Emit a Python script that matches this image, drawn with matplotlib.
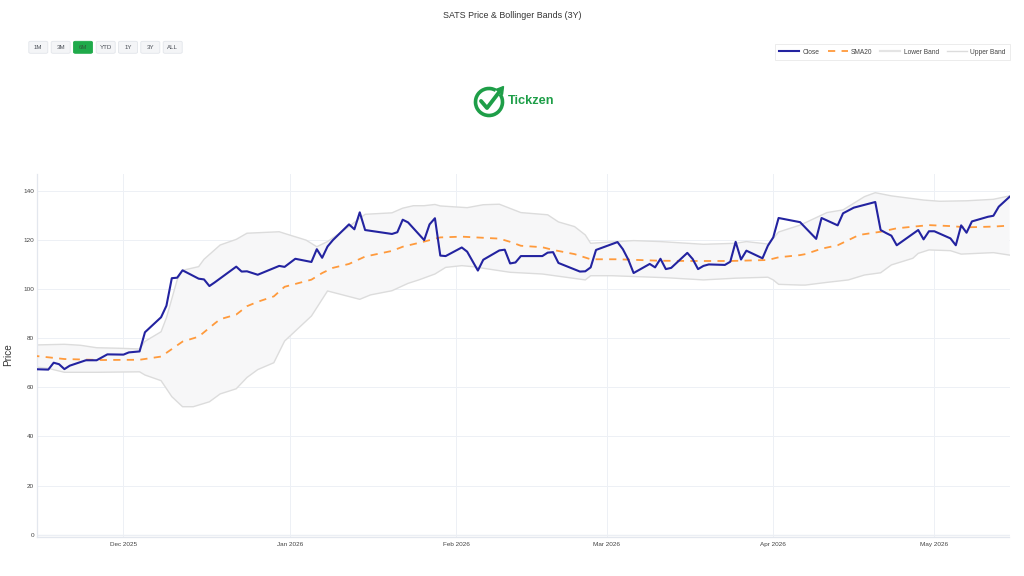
import matplotlib
matplotlib.use("Agg")
import matplotlib.pyplot as plt
import matplotlib.dates as mdates
import matplotlib.patches as mpatches
from matplotlib.lines import Line2D
import pandas as pd

plt.rcParams['font.family'] = ['Liberation Sans', 'DejaVu Sans']

# ---------------- data ----------------
close_dates = [
    "2025-11-14", "2025-11-17", "2025-11-18", "2025-11-19", "2025-11-20", "2025-11-21",
    "2025-11-24", "2025-11-26", "2025-11-28", "2025-12-01", "2025-12-02", "2025-12-04",
    "2025-12-05", "2025-12-08", "2025-12-09", "2025-12-10", "2025-12-11", "2025-12-12",
    "2025-12-15", "2025-12-16", "2025-12-17", "2025-12-18", "2025-12-22", "2025-12-23",
    "2025-12-24", "2025-12-26", "2025-12-29", "2025-12-30", "2025-12-31", "2026-01-02",
    "2026-01-05", "2026-01-06", "2026-01-07", "2026-01-08", "2026-01-09", "2026-01-12",
    "2026-01-13", "2026-01-14", "2026-01-15", "2026-01-20", "2026-01-21", "2026-01-22",
    "2026-01-23", "2026-01-26", "2026-01-27", "2026-01-28", "2026-01-29", "2026-01-30",
    "2026-02-02", "2026-02-03", "2026-02-05", "2026-02-06", "2026-02-09", "2026-02-10",
    "2026-02-11", "2026-02-12", "2026-02-13", "2026-02-17", "2026-02-18", "2026-02-19",
    "2026-02-20", "2026-02-24", "2026-02-25", "2026-02-26", "2026-02-27", "2026-03-03",
    "2026-03-04", "2026-03-05", "2026-03-06", "2026-03-09", "2026-03-10", "2026-03-11",
    "2026-03-12", "2026-03-13", "2026-03-16", "2026-03-17", "2026-03-18", "2026-03-19",
    "2026-03-20", "2026-03-23", "2026-03-24", "2026-03-25", "2026-03-26", "2026-03-27",
    "2026-03-30", "2026-03-31", "2026-04-01", "2026-04-02", "2026-04-06", "2026-04-09",
    "2026-04-10", "2026-04-13", "2026-04-14", "2026-04-16", "2026-04-20", "2026-04-21",
    "2026-04-22", "2026-04-23", "2026-04-24", "2026-04-28", "2026-04-29", "2026-04-30",
    "2026-05-01", "2026-05-04", "2026-05-05", "2026-05-06", "2026-05-07", "2026-05-08",
    "2026-05-11", "2026-05-12", "2026-05-13", "2026-05-15",
]
close_values = [
    67.4, 67.2, 70.0, 69.4, 67.4, 68.8,
    71.0, 71.0, 73.4, 73.3, 74.2, 74.6,
    82.4, 88.5, 93.2, 104.4, 104.6, 107.6,
    104.2, 103.9, 101.2, 102.7, 109.1, 107.1,
    107.2, 105.8, 108.5, 109.4, 109.0, 112.3,
    111.0, 116.2, 112.7, 117.3, 119.9, 126.3,
    124.3, 131.2, 124.0, 122.4, 123.1, 128.2,
    127.1, 119.9, 126.3, 128.8, 113.6, 113.4,
    116.9, 115.2, 107.5, 111.9, 115.7, 116.0,
    110.4, 110.8, 113.4, 113.4, 114.8, 115.0,
    110.6, 107.1, 107.2, 108.8, 115.9, 119.1,
    116.2, 112.0, 106.5, 110.2, 108.8, 112.3,
    108.1, 108.6, 114.7, 112.2, 108.1, 109.4,
    110.0, 109.8, 111.1, 119.2, 112.0, 115.6,
    112.5, 117.6, 121.0, 128.9, 127.2, 120.4,
    128.9, 125.9, 130.8, 133.1, 135.4, 124.0,
    122.8, 121.7, 117.8, 124.0, 120.2, 123.5,
    123.5, 120.6, 117.8, 125.9, 122.9, 127.5,
    129.4, 129.8, 133.5, 137.5,
]

sma_dates = [
    "2025-11-14", "2025-11-20", "2025-11-27", "2025-12-04", "2025-12-08", "2025-12-12",
    "2025-12-15", "2025-12-18", "2025-12-19", "2025-12-22", "2025-12-24", "2025-12-26",
    "2025-12-29", "2025-12-31", "2026-01-05", "2026-01-07", "2026-01-09", "2026-01-12",
    "2026-01-15", "2026-01-20", "2026-01-22", "2026-01-26", "2026-01-29", "2026-02-02",
    "2026-02-09", "2026-02-11", "2026-02-13", "2026-02-17", "2026-02-19", "2026-02-23",
    "2026-02-26", "2026-03-03", "2026-03-11", "2026-03-17", "2026-03-24", "2026-03-31",
    "2026-04-02", "2026-04-06", "2026-04-07", "2026-04-10", "2026-04-13", "2026-04-15",
    "2026-04-17", "2026-04-21", "2026-04-24", "2026-04-30", "2026-05-04", "2026-05-07",
    "2026-05-12", "2026-05-15",
]
sma_values = [
    72.9, 71.5, 71.1, 71.2, 72.5, 78.6,
    80.6, 86.0, 87.7, 89.6, 93.0, 94.8,
    97.0, 100.9, 103.8, 106.5, 108.6, 110.2,
    113.2, 115.5, 117.2, 119.3, 121.0, 121.3,
    120.5, 119.2, 117.6, 117.0, 115.9, 114.2,
    112.1, 112.1, 111.5, 111.4, 111.4, 111.8,
    112.9, 113.8, 114.2, 116.4, 117.8, 119.9,
    122.0, 123.3, 124.7, 126.0, 125.6, 125.1,
    125.4, 125.8,
]

upper_dates = [
    "2025-11-14", "2025-11-20", "2025-11-23", "2025-11-26", "2025-11-30", "2025-12-04",
    "2025-12-05", "2025-12-08", "2025-12-09", "2025-12-11", "2025-12-12", "2025-12-15",
    "2025-12-16", "2025-12-19", "2025-12-22", "2025-12-24", "2025-12-30", "2025-12-31",
    "2026-01-04", "2026-01-06", "2026-01-08", "2026-01-12", "2026-01-15", "2026-01-20",
    "2026-01-22", "2026-01-24", "2026-01-26", "2026-01-28", "2026-01-29", "2026-02-03",
    "2026-02-06", "2026-02-09", "2026-02-13", "2026-02-18", "2026-02-20", "2026-02-23",
    "2026-02-25", "2026-02-26", "2026-03-06", "2026-03-11", "2026-03-19", "2026-03-25",
    "2026-03-27", "2026-03-31", "2026-04-01", "2026-04-02", "2026-04-06", "2026-04-07",
    "2026-04-11", "2026-04-14", "2026-04-18", "2026-04-20", "2026-04-23", "2026-04-29",
    "2026-05-02", "2026-05-07", "2026-05-12", "2026-05-15",
]
upper_values = [
    77.2, 77.5, 77.1, 76.1, 75.9, 75.6,
    78.7, 82.6, 88.3, 103.7, 107.6, 109.1,
    112.1, 117.9, 120.2, 122.7, 123.3, 122.6,
    119.9, 117.2, 119.3, 125.4, 130.4, 131.0,
    132.9, 133.9, 133.9, 134.4, 133.8, 133.1,
    134.3, 134.5, 131.1, 130.2, 127.3, 125.4,
    122.0, 118.6, 119.7, 119.3, 118.2, 118.6,
    119.3, 118.3, 120.6, 123.2, 126.0, 127.0,
    131.1, 132.2, 137.6, 139.2, 137.9, 136.2,
    135.7, 135.9, 136.5, 137.9,
]

lower_dates = [
    "2025-11-14", "2025-11-17", "2025-11-20", "2025-11-26", "2025-12-04", "2025-12-05",
    "2025-12-08", "2025-12-10", "2025-12-12", "2025-12-14", "2025-12-17", "2025-12-19",
    "2025-12-22", "2025-12-24", "2025-12-26", "2025-12-29", "2025-12-31", "2026-01-05",
    "2026-01-08", "2026-01-14", "2026-01-16", "2026-01-20", "2026-01-23", "2026-01-25",
    "2026-01-28", "2026-01-30", "2026-02-02", "2026-02-04", "2026-02-11", "2026-02-17",
    "2026-02-25", "2026-02-26", "2026-03-02", "2026-03-12", "2026-03-19", "2026-03-25",
    "2026-03-31", "2026-04-01", "2026-04-02", "2026-04-06", "2026-04-07", "2026-04-11",
    "2026-04-15", "2026-04-18", "2026-04-21", "2026-04-23", "2026-04-27", "2026-04-28",
    "2026-04-30", "2026-05-04", "2026-05-06", "2026-05-12", "2026-05-15",
]
lower_values = [
    68.4, 67.7, 66.1, 66.1, 66.3, 65.0,
    62.7, 56.2, 52.1, 52.1, 54.1, 57.3,
    59.4, 64.0, 67.2, 70.0, 78.8, 89.0,
    99.2, 95.8, 97.6, 99.3, 102.3, 103.7,
    106.1, 108.8, 109.5, 109.1, 106.8, 106.1,
    103.7, 105.4, 105.4, 104.6, 103.7, 104.4,
    104.8, 103.7, 101.9, 101.6, 101.6, 102.7,
    103.7, 105.7, 106.6, 109.8, 112.5, 114.5,
    115.9, 115.6, 114.2, 114.8, 113.8,
]

y_ticks = [0, 20, 40, 60, 80, 100, 120, 140]
x_tick_dates = ["2025-12-01", "2026-01-01", "2026-02-01", "2026-03-01", "2026-04-01", "2026-05-01"]
x_tick_labels = ["Dec 2025", "Jan 2026", "Feb 2026", "Mar 2026", "Apr 2026", "May 2026"]
range_buttons = ["1M", "3M", "6M", "YTD", "1Y", "3Y", "ALL"]
active_button = "6M"
title = "SATS Price & Bollinger Bands (3Y)"

# ---------------- figure ----------------
W, H = 1024, 576
fig = plt.figure(figsize=(W / 100, H / 100), dpi=100)
fig.patch.set_facecolor("white")

ax = fig.add_axes([36.7 / W, 1 - 536.7 / H, (1009.5 - 36.7) / W, (536.7 - 174) / H])

cd = pd.to_datetime(close_dates)
sd = pd.to_datetime(sma_dates)
ud = pd.to_datetime(upper_dates)
ld = pd.to_datetime(lower_dates)

band_x = list(ud) + list(ld[::-1])
band_y = list(upper_values) + list(lower_values[::-1])
ax.fill(band_x, band_y, color="#f7f7f8", zorder=1, linewidth=0)
ax.plot(ld, lower_values, color="#dcdcdc", lw=1.0, zorder=2)
ax.plot(ud, upper_values, color="#dcdcdc", lw=1.0, zorder=2)
ax.plot(sd, sma_values, color="#ff9a3c", lw=1.3, dashes=(4, 3.5), zorder=3)
ax.plot(cd, close_values, color="#2323a0", lw=1.5, zorder=4)

dec1 = mdates.date2num(pd.Timestamp("2025-12-01"))
ax.set_xlim(dec1 - 16.16, mdates.date2num(pd.Timestamp("2026-05-15")))
ax.set_ylim(-0.8, 146.8)

ax.set_yticks(y_ticks)
ax.set_xticks(pd.to_datetime(x_tick_dates))
ax.set_xticklabels(x_tick_labels)
ax.tick_params(axis="both", length=0, labelsize=4.6, colors="#444444")
ax.tick_params(axis="y", pad=2)
ax.tick_params(axis="x", pad=4)
ax.grid(True, color="#edf0f5", lw=0.7)
ax.set_axisbelow(True)
for s in ["top", "right"]:
    ax.spines[s].set_visible(False)
for s in ["left", "bottom"]:
    ax.spines[s].set_color("#e3e7ee")
    ax.spines[s].set_linewidth(0.9)
ax.axhline(0, color="#e9edf3", lw=1.0, zorder=0)

fig.text(8 / W, 1 - 355 / H, "Price", rotation=90, ha="center", va="center",
         fontsize=7.2, color="#333333")
fig.text(0.5, 1 - 15 / H, title, ha="center", va="center", fontsize=6.4, color="#333333")

# range selector buttons
btn_centers = [38.3, 60.7, 83.0, 105.7, 128.0, 150.3, 172.7]
for label, cx in zip(range_buttons, btn_centers):
    w, h = 19.0, 12.0
    active = label == active_button
    box = mpatches.FancyBboxPatch(((cx - w / 2) / W, 1 - (47.3 + h / 2) / H), w / W, h / H,
                                  boxstyle="round,pad=0,rounding_size=0.002",
                                  transform=fig.transFigure,
                                  facecolor="#1faa4a" if active else "#f4f5f7",
                                  edgecolor="#1faa4a" if active else "#e2e5ea",
                                  lw=0.6)
    fig.patches.append(box)
    fig.text(cx / W, 1 - 47.3 / H, label, ha="center", va="center", fontsize=4.4,
             color="#2f5b3a" if active else "#4a4f57")

# legend
handles = [
    Line2D([], [], color="#2323a0", lw=1.5),
    Line2D([], [], color="#ff9a3c", lw=1.3, dashes=(4, 3.5)),
    Line2D([], [], color="#e4e4e4", lw=1.6),
    Line2D([], [], color="#dcdcdc", lw=1.0),
]
leg = fig.legend(handles, ["Close", "SMA20", "Lower Band", "Upper Band"], ncol=4,
                 loc="center", bbox_to_anchor=(892.5 / W, 1 - 52 / H), fontsize=4.8,
                 frameon=True, fancybox=False, handlelength=3.0, handletextpad=0.5,
                 columnspacing=1.2, borderpad=0.7, labelcolor="#444444")
leg.get_frame().set_edgecolor("#e4e4e4")
leg.get_frame().set_linewidth(0.6)

# logo
lax = fig.add_axes([473 / W, 1 - 118 / H, 34 / W, 34 / H])
lax.set_xlim(0, 34)
lax.set_ylim(0, 34)
lax.axis("off")
green = "#1e9e48"
arc = mpatches.Arc((16, 16), 27, 27, theta1=60, theta2=395, color=green, lw=2.6)
lax.add_patch(arc)
lax.plot([8, 14, 27], [17, 10, 27], color=green, lw=2.8, solid_capstyle="round",
         solid_joinstyle="round")
lax.add_patch(mpatches.Polygon([[23, 28.5], [30.5, 31.5], [29.5, 23.5]], closed=True,
                               color=green))
fig.text(508 / W, 1 - 101 / H, "Tickzen", ha="left", va="center", fontsize=9.2,
         fontweight="bold", color=green)

fig.savefig("out.png", dpi=100, facecolor="white")
